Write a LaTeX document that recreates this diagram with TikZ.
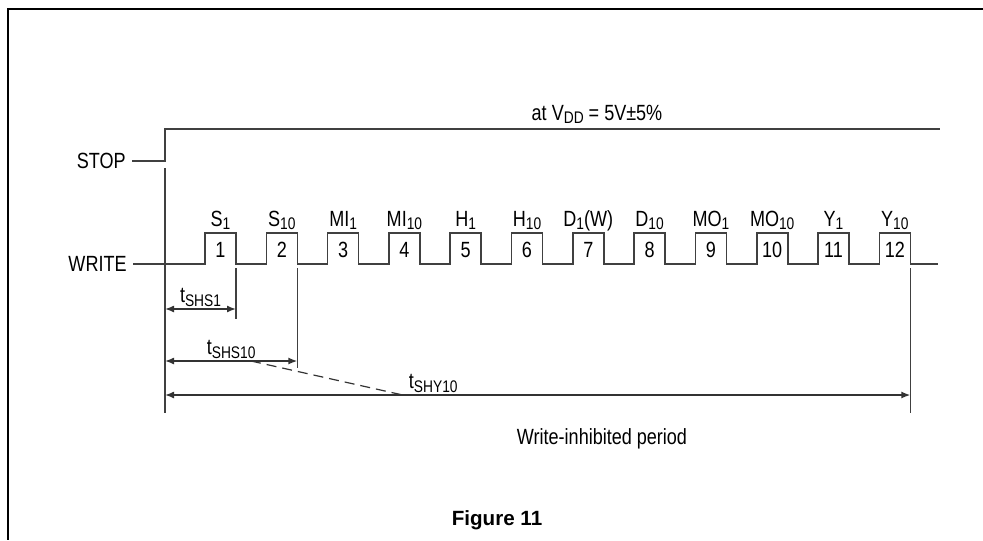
\documentclass[tikz,border=0pt]{standalone}
\usepackage{fontspec}
\setmainfont{Liberation Sans}[FakeStretch=0.82]
\newfontfamily\figfont{Liberation Sans}
\usetikzlibrary{positioning,arrows.meta}
\newcommand{\lowsub}[1]{\raisebox{-0.3ex}{\fontsize{8.4}{9}\selectfont #1}}

\begin{document}
\begin{tikzpicture}[x=0.5pt, y=-0.5pt,
				frame/.style={draw=black, line width=1pt},
				signal/.style={draw=black!75, line width=0.8pt},
				dim/.style={draw=black!80, line width=0.7pt, {Latex[length=4.5pt,width=3.5pt]}-{Latex[length=4.5pt,width=3.5pt]}},
				leader/.style={draw=black!80, line width=0.6pt, dash pattern=on 5pt off 3pt},
				siglabel/.style={inner sep=3pt, font=\fontsize{11}{13}\selectfont},
				num/.style={inner sep=0pt, font=\fontsize{11}{13}\selectfont},
				plabel/.style={inner sep=0pt, font=\fontsize{11}{13}\selectfont},
				caption/.style={inner sep=0pt, font=\figfont\bfseries\fontsize{10.3}{12}\selectfont}
			]
			\useasboundingbox (0,0) rectangle (983,540);
			% frame
			\coordinate (fcorner) at (8,9);
			\draw[frame] (983,9) -- (fcorner) -- (8,540);
			% STOP signal
			\node[siglabel, anchor=east] (stop) at (132,161) {STOP};
			\coordinate (stopedge) at (165,161);
			\coordinate (stopend) at (940,129);
			\draw[signal] (stop.east) -- (stopedge) |- (stopend);
			\node[siglabel, inner sep=0pt, anchor=base] (vdd) at (597,120) {at V\lowsub{DD} = 5V±5\%};
			% WRITE signal with pulses
			\node[siglabel, anchor=east] (write) at (133,264) {WRITE};
			\coordinate (wend) at (938,264);
			\foreach \k/\lab in {1/S\lowsub{1}, 2/S\lowsub{10}, 3/MI\lowsub{1}, 4/MI\lowsub{10},
					5/H\lowsub{1}, 6/H\lowsub{10}, 7/D\lowsub{1}(W), 8/D\lowsub{10},
					9/MO\lowsub{1}, 10/MO\lowsub{10}, 11/Y\lowsub{1}, 12/Y\lowsub{10}} {
				\pgfmathsetmacro{\xs}{205+61.3*(\k-1)}
				\coordinate (rise\k) at (\xs,264);
				\coordinate (fall\k) at (\xs+31,264);
				\node[num] (n\k) at (\xs+15.5,250) {\k};
				\node[plabel, anchor=base] (l\k) at (\xs+15.5,226) {\lab};
			}
			\draw[signal] (write.east) foreach \k in {1,...,12} { -- (rise\k) -- ++(0,-31) -| (fall\k) } -- (wend);
			% timing references
			\coordinate (ref0) at (165,168);
			\coordinate (ref1) at (165,413);
			\draw[signal] (ref0) -- (ref1);
			\draw[signal] ([yshift=-2pt]fall1) -- ++(0,51);
			\draw[signal] ([yshift=-2pt]fall2) -- ++(0,100);
			\draw[signal] ([yshift=-2pt]fall12) -- ++(0,145);
			\coordinate (a1) at (165,309);
			\coordinate (a2) at (165,361);
			\coordinate (a3) at (165,395);
			\draw[dim] (a1) -- (a1 -| fall1) node[midway, above=1pt, siglabel, inner sep=0pt] (tshs1) {t\lowsub{SHS1}};
			\draw[dim] (a2) -- (a2 -| fall2) node[midway, above=1pt, siglabel, inner sep=0pt] (tshs10) {t\lowsub{SHS10}}
				coordinate[pos=0.65] (d1);
			\draw[dim] (a3) -- (a3 -| fall12) node[pos=0.36, above=1pt, siglabel, inner sep=0pt] (tshy10) {t\lowsub{SHY10}}
				coordinate[pos=0.319] (d2);
			\draw[leader] (d1) -- (d2);
			\node[siglabel, inner sep=0pt] (period) at (602,439) {Write-inhibited period};
			\node[caption] (fig) at (497,520) {Figure 11};
			\end{tikzpicture}
\end{document}
